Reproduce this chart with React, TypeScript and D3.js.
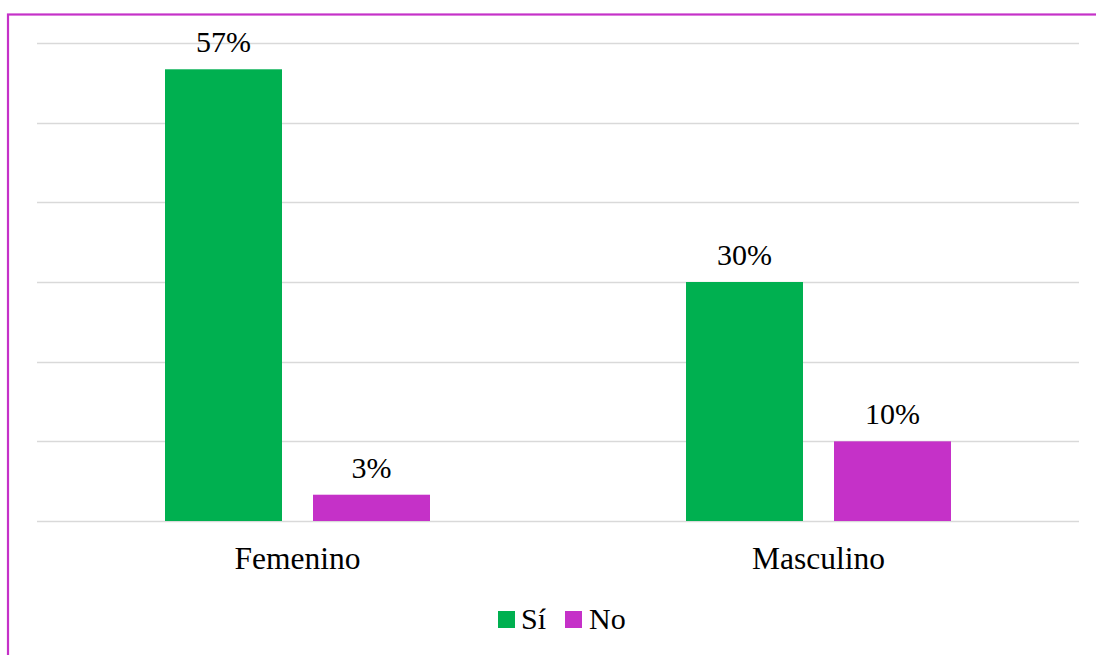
import * as React from 'react';
import * as d3 from 'd3';

const categories = ['Femenino', 'Masculino'];
const seriesNames = ['Sí', 'No'];
const siValues = [0.567, 0.30];
const noValues = [0.033, 0.10];
const yTicks = [0, 0.1, 0.2, 0.3, 0.4, 0.5, 0.6];

const colors: Record<string, string> = { 'Sí': '#00B050', 'No': '#C531C8' };
const font = "'Liberation Serif', 'Times New Roman', Times, 'DejaVu Serif', serif";

const App: React.FC = () => {
    const width = 1096;
    const height = 655;
    const left = 37, right = 1079, top = 43, bottom = 521;

    const x0 = d3.scaleBand<string>().domain(categories).range([left, right]);
    const groupW = 265;
    const x1 = d3.scaleBand<string>().domain(seriesNames).range([0, groupW]).paddingInner(31 / 148);
    const y = d3.scaleLinear().domain([0, 0.6]).range([bottom, top]);

    const rows = categories.map((c, i) => ({ cat: c, 'Sí': siValues[i], 'No': noValues[i] } as any));
    const txt = { fontFamily: font, fontSize: '30px', fill: '#000' };

    return (
        <svg width={width} height={height} style={{ position: 'absolute', left: 0, top: 0 }}>
            <rect x={0} y={0} width={width} height={height} fill="#fff" />
            <rect x={8} y={14.5} width={1200} height={800} fill="none" stroke="#C531C8" strokeWidth={2.2} />
            {yTicks.map(t => (
                <line key={t} x1={left} x2={right} y1={Math.round(y(t)) + 0.5} y2={Math.round(y(t)) + 0.5}
                    stroke="#D9D9D9" strokeWidth={1.5} />
            ))}
            {rows.map(r => {
                const gx = x0(r.cat)! + (x0.bandwidth() - groupW) / 2;
                return (
                    <g key={r.cat}>
                        {seriesNames.map(s => {
                            const bx = gx + x1(s)!;
                            const by = y(r[s]);
                            return (
                                <g key={s}>
                                    <rect x={bx} y={by} width={x1.bandwidth()} height={bottom - by} fill={colors[s]} />
                                    <text x={bx + x1.bandwidth() / 2} y={by - 17} textAnchor="middle" style={txt}>
                                        {Math.round(r[s] * 100) + '%'}
                                    </text>
                                </g>
                            );
                        })}
                        <text x={x0(r.cat)! + x0.bandwidth() / 2} y={569} textAnchor="middle"
                            style={{ ...txt, fontSize: '31.5px' }}>{r.cat}</text>
                    </g>
                );
            })}
            <g>
                <rect x={498} y={611} width={17} height={17} fill={colors['Sí']} />
                <text x={521} y={629} style={txt}>Sí</text>
                <rect x={565} y={611} width={17} height={17} fill={colors['No']} />
                <text x={589} y={629} style={txt}>No</text>
            </g>
        </svg>
    );
};

export default App;
